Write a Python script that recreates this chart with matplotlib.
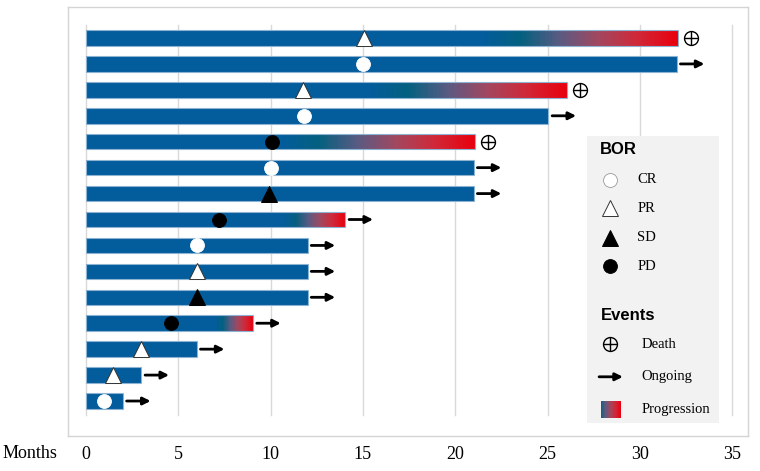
import matplotlib
matplotlib.use("Agg")
import matplotlib.pyplot as plt
from matplotlib.colors import LinearSegmentedColormap
import numpy as np

# swimmer data, one row per patient (top to bottom)
ends = [32.05, 32.0, 26.05, 25.05, 21.05, 21.0, 21.0, 14.05, 12.0, 12.0, 12.0, 9.05, 6.0, 3.0, 2.0]
bor_time = [15.05, 15.0, 11.75, 11.8, 10.05, 10.0, 9.9, 7.2, 6.0, 6.0, 6.0, 4.6, 3.0, 1.45, 0.95]
bor = ['PR', 'CR', 'PR', 'CR', 'PD', 'CR', 'SD', 'PD', 'CR', 'PR', 'SD', 'PD', 'PR', 'PR', 'CR']
event = ['Death', 'Ongoing', 'Death', 'Ongoing', 'Death', 'Ongoing', 'Ongoing', 'Ongoing',
         'Ongoing', 'Ongoing', 'Ongoing', 'Ongoing', 'Ongoing', 'Ongoing', 'Ongoing']
prog_start = [21.4, None, 15.3, None, 10.5, None, None, 10.7, None, None, None, 7.0, None, None, None]
xticks = [0, 5, 10, 15, 20, 25, 30, 35]

blue = '#035c9c'
prog_cmap = LinearSegmentedColormap.from_list(
    'prog', [blue, '#04607f', '#5a5a82', '#a2475f', '#d02838', '#e8000e'])

bor_style = {
    'CR': dict(marker='o', ms=10, mfc='white', mec='white', mew=0.6),
    'PR': dict(marker='^', ms=11, mfc='white', mec='#333333', mew=0.7),
    'SD': dict(marker='^', ms=11, mfc='black', mec='black', mew=0.7),
    'PD': dict(marker='o', ms=10, mfc='black', mec='black', mew=0.6),
}

plt.rcParams['font.family'] = ['Liberation Serif', 'DejaVu Serif']

fig = plt.figure(figsize=(7.6, 4.71), dpi=100)
ax = fig.add_axes([68 / 760, 1 - 436 / 471, 680 / 760, 429 / 471])

n = len(ends)
rows = np.arange(n)
h = 0.6

for x in xticks:
    ax.plot([x, x], [-0.5, n - 0.45], color='#d9d9d9', lw=1, zorder=0)

ax.barh(rows, ends, height=h, color=blue, linewidth=0, zorder=2)

# progression gradient as thin slices
nseg = 150
for i in range(n):
    if prog_start[i] is not None:
        edges = np.linspace(prog_start[i], ends[i], nseg + 1)
        w = edges[1] - edges[0]
        cols = prog_cmap(np.linspace(0, 1, nseg))
        ax.barh([i] * nseg, [w * 1.6] * (nseg - 1) + [w], left=edges[:-1], height=h,
                color=cols, linewidth=0, zorder=3)

ax.barh(rows, ends, height=h, color='none', edgecolor='#8db3d3', linewidth=0.8, zorder=4)

for i in range(n):
    ax.plot(bor_time[i], i, linestyle='none', zorder=5, **bor_style[bor[i]])
    if event[i] == 'Death':
        ax.plot(ends[i] + 0.72, i, marker='o', ms=10, mfc='none', mec='black', mew=1.0, zorder=5)
        ax.plot(ends[i] + 0.72, i, marker='+', ms=10, color='black', mew=1.0, zorder=5)
    else:
        ax.annotate('', xy=(ends[i] + 1.5, i), xytext=(ends[i] + 0.2, i),
                    arrowprops=dict(arrowstyle='-|>', color='black', lw=2, mutation_scale=11,
                                    shrinkA=0, shrinkB=0), zorder=5)

ax.set_xlim((68 - 86) / 18.46, (748 - 86) / 18.46)
ax.set_ylim((436 - 38) / 25.93, (7 - 38) / 25.93)
ax.set_yticks([])
ax.set_xticks(xticks)
ax.set_xticklabels([str(x) for x in xticks], fontsize=13)
ax.tick_params(axis='x', length=0, pad=7)
for s in ax.spines.values():
    s.set_color('#d4d4d4')
    s.set_linewidth(1)

fig.text(30 / 760, 1 - 453 / 471, 'Months', fontsize=13, ha='center', va='center')

# legend box
T = ax.transAxes
ax.add_patch(plt.Rectangle((0.763, 0.030), 0.194, 0.669, transform=T, facecolor='#f2f2f2',
                           edgecolor='none', zorder=6))
sans = ['Liberation Sans', 'DejaVu Sans']
ax.text(0.782, 0.667, 'BOR', transform=T, fontsize=12, fontweight='bold', family=sans,
        va='center', ha='left', zorder=7)
leg_y = {'CR': 0.597, 'PR': 0.531, 'SD': 0.462, 'PD': 0.396}
for k, yy in leg_y.items():
    st = dict(bor_style[k])
    if k == 'CR':
        st['mec'] = '#999999'
    ax.plot(0.797, yy, transform=T, linestyle='none', zorder=7, **st)
    ax.text(0.837, yy, k, transform=T, fontsize=10.5, va='center', ha='left', zorder=7)

ax.text(0.784, 0.282, 'Events', transform=T, fontsize=12, fontweight='bold', family=sans,
        va='center', ha='left', zorder=7)
ax.plot(0.797, 0.214, transform=T, marker='o', ms=10, mfc='none', mec='black', mew=1.0, zorder=7)
ax.plot(0.797, 0.214, transform=T, marker='+', ms=10, color='black', mew=1.0, zorder=7)
ax.text(0.843, 0.214, 'Death', transform=T, fontsize=10.5, va='center', ha='left', zorder=7)
ax.annotate('', xy=(0.816, 0.138), xytext=(0.781, 0.138), xycoords=T,
            arrowprops=dict(arrowstyle='-|>', color='black', lw=2, mutation_scale=11,
                            shrinkA=0, shrinkB=0), zorder=7)
ax.text(0.843, 0.138, 'Ongoing', transform=T, fontsize=10.5, va='center', ha='left', zorder=7)
sw = ax.inset_axes([0.784, 0.042, 0.029, 0.040])
sw.imshow(np.linspace(0.25, 1, 64).reshape(1, -1), cmap=prog_cmap, aspect='auto',
          vmin=0, vmax=1)
sw.set_axis_off()
sw.set_zorder(8)
ax.text(0.843, 0.061, 'Progression', transform=T, fontsize=10.5, va='center', ha='left', zorder=7)

fig.savefig('out.png', dpi=100)
